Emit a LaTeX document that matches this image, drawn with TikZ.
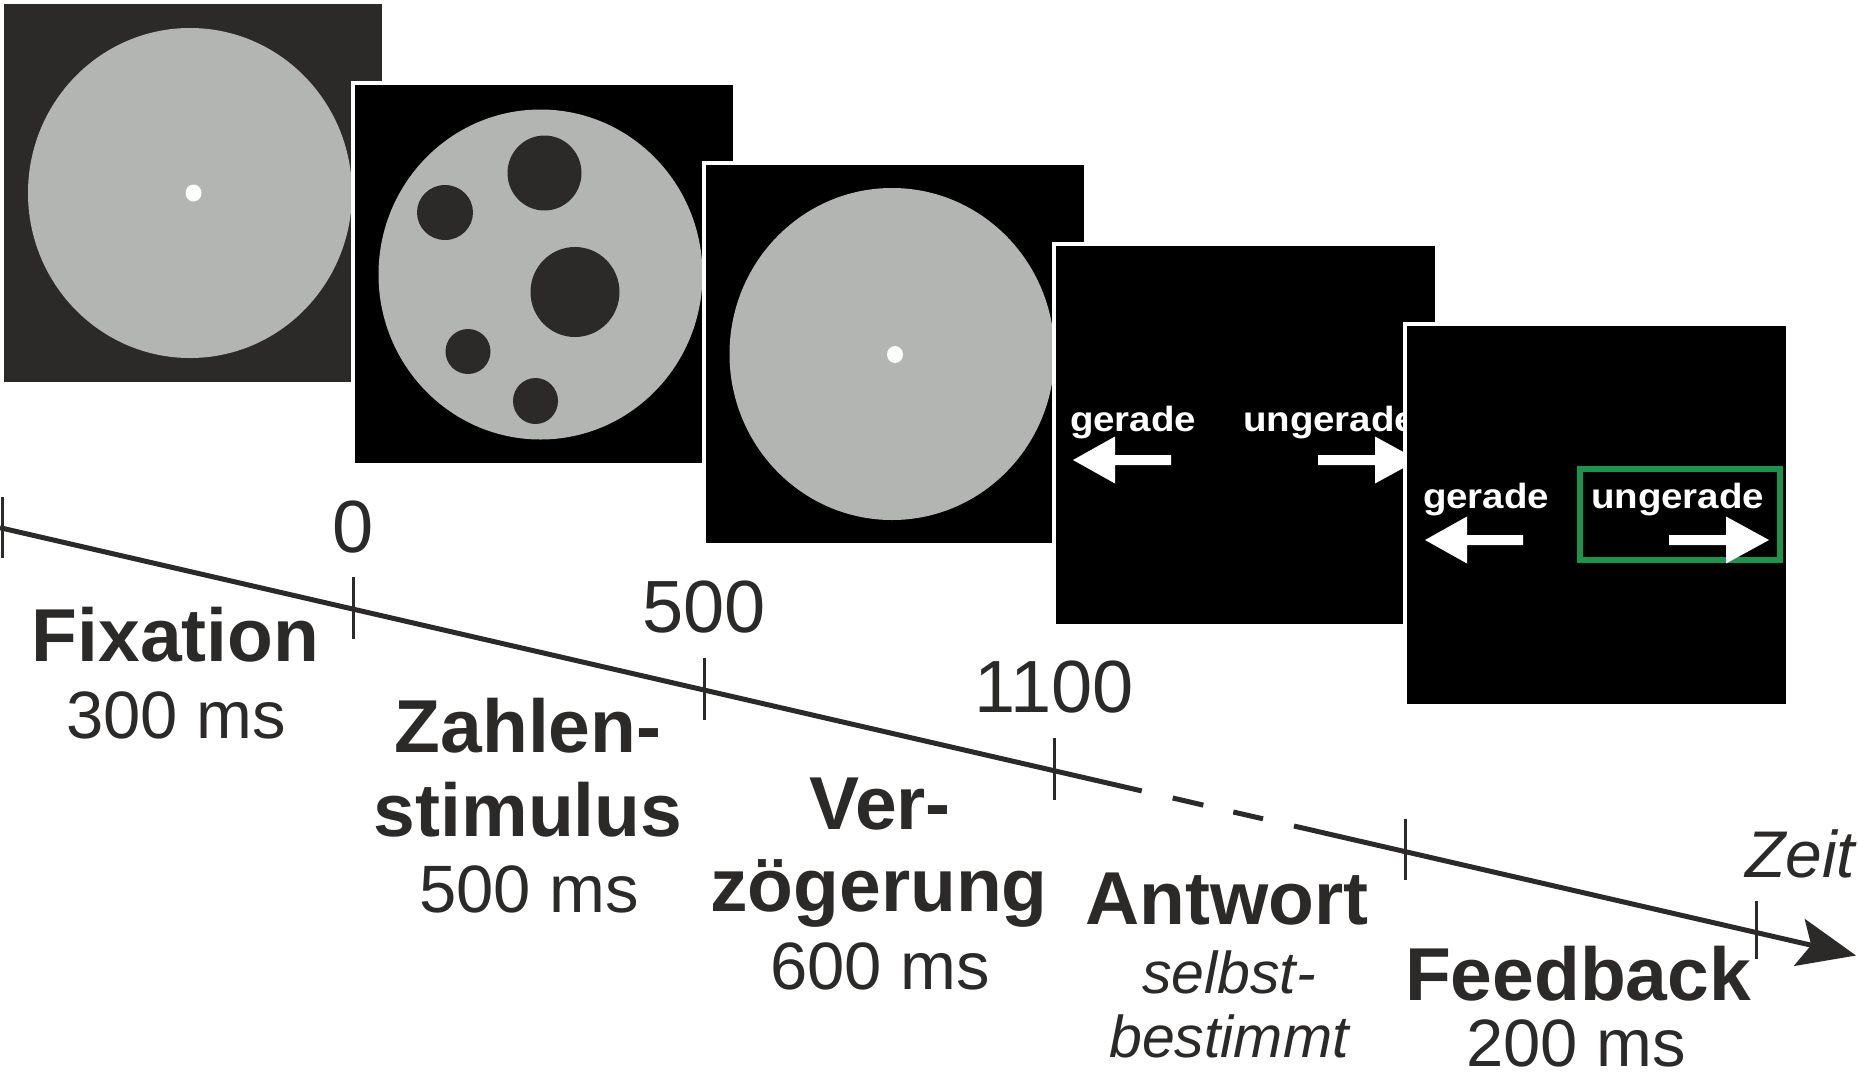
\documentclass[tikz,border=0pt]{standalone}
\usepackage{fontspec}
\setmainfont{Liberation Sans}
\usepackage{graphicx}
\usetikzlibrary{arrows.meta}
\definecolor{ink}{RGB}{43,42,40}
\definecolor{discgray}{RGB}{179,181,179}
\definecolor{okgreen}{RGB}{27,150,72}
\tikzset{
  lbl/.style={inner sep=0pt, outer sep=0pt, text=ink, anchor=base},
  boldlbl/.style={lbl, font=\fontsize{75}{80}\selectfont\bfseries},
  durlbl/.style={lbl, font=\fontsize{67}{72}\selectfont},
  ticklbl/.style={lbl, font=\fontsize{74}{80}\selectfont},
  itallbl/.style={lbl, font=\fontsize{59}{64}\selectfont\itshape},
  keytext/.style={inner sep=0pt, outer sep=0pt, text=white, anchor=base west, font=\fontsize{35}{38}\selectfont\bfseries},
  timeline/.style={draw=ink, line width=5pt},
  tickmark/.style={draw=ink, line width=3pt},
  spot/.style={fill=ink},
  frameback/.style={fill=white},
  screen/.style={fill=black},
  leftkey/.pic={\fill[white] (0,0) -- (42,-23.5) -- (42,-5) -- (98,-5) -- (98,5) -- (42,5) -- (42,23.5) -- cycle;},
  rightkey/.pic={\fill[white] (0,0) -- (-43,-23.5) -- (-43,-5) -- (-100,-5) -- (-100,5) -- (-43,5) -- (-43,23.5) -- cycle;}
}
\begin{document}
\begin{tikzpicture}[x=1pt,y=-1pt]
\useasboundingbox (0,0) rectangle (1858,1080);

% ---- panel 1: fixation
\fill[ink] (4,4) rectangle (382,382);
\fill[discgray] (190,193) ellipse [x radius=162, y radius=165];
\fill[white] (193.5,193) ellipse [x radius=8, y radius=8.5];

% ---- panel 2: number stimulus
\fill[frameback] (350.8,80.5) rectangle (737,467);
\fill[screen] (354.8,84.5) rectangle (733,463);
\fill[discgray] (540.5,274.5) ellipse [x radius=162, y radius=165];
\fill[spot] (544.5,173) ellipse [x radius=37, y radius=37.5];
\fill[spot] (445,212.5) ellipse [x radius=28, y radius=27.5];
\fill[spot] (575,292) ellipse [x radius=44.5, y radius=45];
\fill[spot] (468,351.5) ellipse [x radius=22.5, y radius=22.5];
\fill[spot] (535.5,401) ellipse [x radius=22.5, y radius=23];

% ---- panel 3: delay
\fill[frameback] (701.6,161) rectangle (1088,547);
\fill[screen] (705.6,165) rectangle (1084,543);
\fill[discgray] (892,354) ellipse [x radius=162.5, y radius=166];
\fill[white] (895,354.5) ellipse [x radius=8, y radius=8.5];

% ---- panel 4: response
\fill[frameback] (1052.4,241.5) rectangle (1439,628);
\fill[screen] (1056.4,245.5) rectangle (1435,624);
\node[keytext] (g4) at (1070,431) {\scalebox{1.1}[1]{gerade}};
\node[keytext] (u4) at (1243,431) {\scalebox{1.1}[1]{ungerade}};
\pic at (1073,460) {leftkey};
\pic at (1418,460) {rightkey};

% ---- panel 5: feedback
\fill[frameback] (1403.2,322) rectangle (1790,708);
\fill[screen] (1407.2,326) rectangle (1786,704);
\draw[okgreen, line width=6pt] (1579.7,469) rectangle (1780.3,560);
\node[keytext] (g5) at (1423,508) {\scalebox{1.1}[1]{gerade}};
\node[keytext] (u5) at (1591,508) {\scalebox{1.1}[1]{ungerade}};
\pic at (1425,540) {leftkey};
\pic at (1769,540) {rightkey};

% ---- time line
\coordinate (t0) at (0,527.7);
\coordinate (s1) at (1141.7,790.9);
\coordinate (d1a) at (1172.7,798.0);
\coordinate (d1b) at (1203.3,805.1);
\coordinate (d2a) at (1233.3,812.0);
\coordinate (d2b) at (1263,818.8);
\coordinate (s2) at (1294,826.0);
\coordinate (tend) at (1856,955.5);
\draw[timeline] (t0) -- (s1);
\draw[timeline] (d1a) -- (d1b);
\draw[timeline] (d2a) -- (d2b);
\draw[timeline, -{Stealth[length=58pt, width=48pt, inset=12pt]}] (s2) -- (tend);

% ticks
\draw[tickmark] (2.5,497) -- (2.5,558);
\draw[tickmark] (353,577) -- (353,639);
\draw[tickmark] (704,658) -- (704,720);
\draw[tickmark] (1054.5,738) -- (1054.5,800);
\draw[tickmark] (1405.5,819) -- (1405.5,880);
\draw[tickmark] (1756.5,901) -- (1756.5,959);

% tick labels
\node[ticklbl] (n0) at (353,552) {0};
\node[ticklbl] (n500) at (704,632) {500};
\node[ticklbl] (n1100) at (1054,712) {1100};
\node[lbl, font=\fontsize{66}{70}\selectfont\itshape] (zeit) at (1800,877) {Zeit};

% phase labels
\node[boldlbl] (fix) at (175.5,661) {Fixation};
\node[durlbl] (fixd) at (176,738) {300 ms};

\node[boldlbl] (zah1) at (528,752) {Zahlen-};
\node[boldlbl] (zah2) at (528,836) {stimulus};
\node[durlbl] (zahd) at (529,912) {500 ms};

\node[boldlbl] (ver1) at (880,829) {Ver-};
\node[boldlbl] (ver2) at (879,911) {zögerung};
\node[durlbl] (verd) at (880,989) {600 ms};

\node[boldlbl] (ant) at (1227,924) {Antwort};
\node[itallbl] (ant1) at (1229,993) {selbst-};
\node[itallbl] (ant2) at (1229,1057) {bestimmt};

\node[boldlbl] (fb) at (1578,1000) {Feedback};
\node[durlbl] (fbd) at (1576,1066) {200 ms};
\end{tikzpicture}
\end{document}
